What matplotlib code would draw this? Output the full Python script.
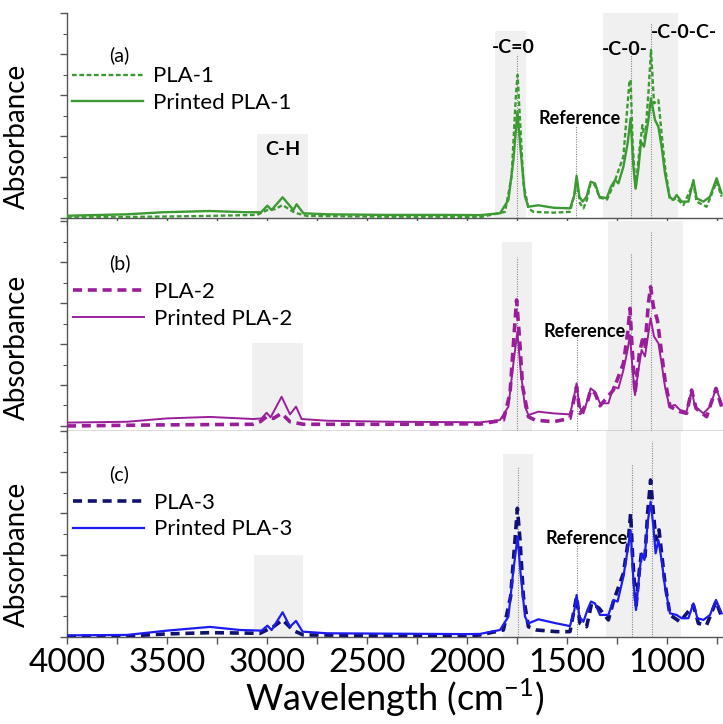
import numpy as np
import matplotlib
matplotlib.use("Agg")
import matplotlib.pyplot as plt
from matplotlib.ticker import MultipleLocator, FixedLocator

plt.rcParams['font.family'] = ['Lato', 'DejaVu Sans']

# ---------------- data (wavenumber cm-1, absorbance a.u.) ----------------
wn_pla1 = [4000, 3700, 3300, 3050, 2998, 2960, 2922, 2870, 2850, 2800, 2400, 2100, 1935, 1810, 1777, 1755,
           1747, 1735, 1718, 1693, 1668, 1568, 1485, 1460, 1452, 1435, 1418, 1400, 1382, 1360, 1338, 1300,
           1268, 1218, 1188, 1182, 1172, 1157, 1138, 1123, 1110, 1093, 1080, 1065, 1043, 1027, 1010, 985,
           952, 918, 868, 852, 802, 752, 727]
ab_pla1 = [0.003, 0.005, 0.010, 0.015, 0.039, 0.043, 0.063, 0.031, 0.023, 0.010, 0.006, 0.006, 0.004, 0.030,
           0.202, 0.608, 0.698, 0.478, 0.169, 0.047, 0.030, 0.026, 0.030, 0.128, 0.185, 0.072, 0.047, 0.090,
           0.169, 0.160, 0.100, 0.090, 0.161, 0.300, 0.665, 0.674, 0.364, 0.143, 0.332, 0.453, 0.380, 0.608,
           0.820, 0.559, 0.575, 0.413, 0.250, 0.088, 0.096, 0.063, 0.169, 0.080, 0.055, 0.177, 0.104]

wn_ppla1 = [4000, 3700, 3520, 3285, 3100, 3030, 2998, 2977, 2922, 2868, 2852, 2818, 2700, 2400, 2100, 1935,
            1835, 1793, 1768, 1748, 1732, 1710, 1693, 1643, 1568, 1485, 1465, 1452, 1438, 1422, 1402, 1382,
            1360, 1338, 1302, 1280, 1260, 1243, 1218, 1197, 1182, 1168, 1157, 1143, 1130, 1115, 1093, 1080,
            1060, 1043, 1027, 1010, 988, 968, 952, 927, 893, 868, 852, 818, 785, 752, 727]
ab_ppla1 = [0.011, 0.018, 0.028, 0.034, 0.028, 0.028, 0.060, 0.039, 0.101, 0.039, 0.067, 0.023, 0.018, 0.015,
            0.015, 0.014, 0.023, 0.088, 0.283, 0.519, 0.332, 0.104, 0.055, 0.062, 0.050, 0.047, 0.104, 0.206,
            0.104, 0.080, 0.104, 0.177, 0.169, 0.104, 0.096, 0.153, 0.185, 0.169, 0.250, 0.364, 0.486, 0.250,
            0.143, 0.240, 0.372, 0.348, 0.478, 0.584, 0.478, 0.445, 0.348, 0.218, 0.104, 0.088, 0.112, 0.080,
            0.080, 0.185, 0.096, 0.080, 0.104, 0.194, 0.120]

wn_pla2 = [4000, 3535, 3068, 3035, 3002, 2968, 2927, 2885, 2818, 2370, 2000, 1935, 1818, 1785, 1763, 1752,
           1738, 1722, 1693, 1660, 1568, 1485, 1452, 1435, 1400, 1382, 1360, 1335, 1268, 1218, 1197, 1185,
           1175, 1160, 1138, 1123, 1110, 1093, 1082, 1068, 1048, 1027, 1010, 985, 935, 902, 877, 855, 802,
           755, 727]
ab_pla2 = [0.024, 0.029, 0.032, 0.044, 0.068, 0.060, 0.084, 0.044, 0.032, 0.032, 0.034, 0.033, 0.052, 0.179,
           0.481, 0.624, 0.450, 0.211, 0.068, 0.052, 0.044, 0.060, 0.211, 0.084, 0.130, 0.195, 0.180, 0.120,
           0.195, 0.322, 0.465, 0.584, 0.402, 0.179, 0.370, 0.434, 0.402, 0.608, 0.687, 0.592, 0.528, 0.370,
           0.243, 0.116, 0.092, 0.084, 0.195, 0.108, 0.068, 0.203, 0.116]

wn_ppla2 = [4000, 3700, 3500, 3285, 3068, 3027, 3002, 2982, 2927, 2885, 2855, 2827, 2700, 2370, 2000, 1935,
            1835, 1793, 1768, 1748, 1732, 1710, 1693, 1643, 1568, 1485, 1465, 1452, 1438, 1418, 1398, 1382,
            1360, 1335, 1293, 1268, 1243, 1218, 1197, 1185, 1172, 1160, 1143, 1127, 1110, 1093, 1082, 1065,
            1043, 1027, 1010, 988, 960, 935, 902, 877, 860, 818, 785, 755, 727]
ab_ppla2 = [0.040, 0.044, 0.060, 0.067, 0.057, 0.060, 0.087, 0.065, 0.163, 0.079, 0.116, 0.057, 0.049, 0.044,
            0.042, 0.041, 0.052, 0.116, 0.322, 0.473, 0.290, 0.116, 0.076, 0.092, 0.084, 0.079, 0.163, 0.227,
            0.116, 0.084, 0.147, 0.203, 0.187, 0.132, 0.132, 0.211, 0.203, 0.290, 0.386, 0.457, 0.290, 0.171,
            0.290, 0.386, 0.355, 0.465, 0.537, 0.450, 0.418, 0.322, 0.211, 0.116, 0.124, 0.100, 0.092, 0.195,
            0.116, 0.084, 0.116, 0.203, 0.132]

wn_pla3 = [4000, 3700, 3500, 3285, 3035, 2968, 2922, 2868, 2818, 2000, 1935, 1818, 1782, 1760, 1748, 1735,
           1718, 1693, 1652, 1552, 1485, 1452, 1435, 1402, 1377, 1340, 1293, 1268, 1218, 1193, 1182, 1172,
           1155, 1138, 1127, 1110, 1097, 1082, 1068, 1055, 1040, 1027, 1010, 985, 935, 868, 843, 802, 755, 727]
ab_pla3 = [0.002, 0.005, 0.015, 0.021, 0.018, 0.050, 0.083, 0.031, 0.010, 0.006, 0.010, 0.034, 0.196, 0.471,
           0.625, 0.471, 0.196, 0.050, 0.034, 0.026, 0.026, 0.196, 0.066, 0.050, 0.163, 0.140, 0.083, 0.172,
           0.309, 0.471, 0.600, 0.390, 0.147, 0.325, 0.414, 0.390, 0.600, 0.762, 0.600, 0.471, 0.520, 0.406,
           0.260, 0.107, 0.074, 0.155, 0.066, 0.058, 0.172, 0.099]

wn_ppla3 = [4000, 3700, 3500, 3285, 3135, 3027, 2998, 2977, 2922, 2885, 2855, 2822, 2700, 2000, 1935, 1835,
            1793, 1768, 1747, 1732, 1710, 1693, 1643, 1552, 1485, 1463, 1452, 1438, 1418, 1398, 1380, 1360,
            1335, 1293, 1268, 1247, 1218, 1197, 1182, 1168, 1155, 1138, 1127, 1113, 1097, 1082, 1068, 1057,
            1043, 1027, 1010, 985, 952, 927, 893, 868, 848, 818, 785, 755, 727]
ab_ppla3 = [0.008, 0.010, 0.031, 0.049, 0.034, 0.031, 0.055, 0.034, 0.120, 0.050, 0.078, 0.026, 0.018, 0.014,
            0.015, 0.034, 0.099, 0.325, 0.487, 0.309, 0.099, 0.066, 0.086, 0.066, 0.053, 0.131, 0.204, 0.099,
            0.074, 0.131, 0.172, 0.163, 0.107, 0.107, 0.180, 0.172, 0.293, 0.422, 0.519, 0.277, 0.131, 0.309,
            0.406, 0.374, 0.552, 0.657, 0.536, 0.406, 0.471, 0.374, 0.244, 0.115, 0.107, 0.091, 0.091, 0.163,
            0.091, 0.083, 0.107, 0.180, 0.115]

panel_tags = ['(a)', '(b)', '(c)']
raw_labels = ['PLA-1', 'PLA-2', 'PLA-3']
printed_labels = ['Printed PLA-1', 'Printed PLA-2', 'Printed PLA-3']

# shaded regions per panel: (wn_high, wn_low, top)
bands = [
    [(3050, 2795, 0.41), (1860, 1705, 0.91), (1320, 945, 1.0)],
    [(3075, 2820, 0.42), (1825, 1675, 0.90), (1295, 920, 1.0)],
    [(3065, 2820, 0.40), (1820, 1670, 0.89), (1305, 930, 1.0)],
]
# dotted marker lines per panel: (wn, top)
markers = [
    [(1750, 0.80), (1455, 0.45), (1180, 0.795), (1080, 0.95)],
    [(1750, 0.83), (1450, 0.45), (1180, 0.85), (1080, 0.95)],
    [(1745, 0.83), (1450, 0.46), (1175, 0.84), (1075, 0.95)],
]
ref_label_pos = [(1435, 0.483), (1410, 0.476), (1400, 0.48)]
group_labels = [('C-H', 2920, 0.332), ('-C=0', 1770, 0.834), ('-C-0-', 1210, 0.82), ('-C-0-C-', 915, 0.907)]

xticks_major = [4000, 3500, 3000, 2500, 2000, 1500, 1000]

# ---------------- styling ----------------
colors_raw = ['#3c9a32', '#9a1e9a', '#111170']
colors_printed = ['#3c9a32', '#9a1e9a', '#1c1cf0']
raw_styles = [dict(ls=(0, (2.0, 1.1)), lw=1.7), dict(ls=(0, (2.5, 1.6)), lw=2.6), dict(ls=(0, (2.5, 1.6)), lw=2.6)]
printed_lw = [1.7, 1.4, 1.6]

fig = plt.figure(figsize=(7.23, 7.24), dpi=100)
left = 67 / 723
width = 1 - left
ax_rects = [
    [left, 1 - 218 / 724, width, 205 / 724],
    [left, 1 - 431 / 724, width, 210 / 724],
    [left, 1 - 637 / 724, width, 206 / 724],
]
legend_anchor = [(0.0076, 0.74), (0.009, 0.71), (0.009, 0.70)]
tag_pos = [(0.08, 0.795), (0.08, 0.80), (0.08, 0.79)]
ytick_sets = [np.arange(0, 1.01, 0.2), np.arange(0.024, 1.01, 0.195), np.arange(0, 1.01, 0.2)]

series = [(wn_pla1, ab_pla1, wn_ppla1, ab_ppla1),
          (wn_pla2, ab_pla2, wn_ppla2, ab_ppla2),
          (wn_pla3, ab_pla3, wn_ppla3, ab_ppla3)]

spine_col = '#555555'
axes = []
for i in range(3):
    ax = fig.add_axes(ax_rects[i])
    axes.append(ax)
    ax.set_xlim(4000, 720)
    ax.set_ylim(0, 1.0)
    for (x0, x1, top) in bands[i]:
        ax.axvspan(x1, x0, ymin=0, ymax=top, color='#f0f0f0', lw=0, zorder=0)
    for (xm, top) in markers[i]:
        ax.vlines(xm, 0, top, colors='#888888', linestyles=(0, (1, 1.2)), lw=0.8, zorder=1)
    wr, ar, wp, ap = series[i]
    ax.plot(wr, ar, color=colors_raw[i], label=raw_labels[i], zorder=3, **raw_styles[i])
    ax.plot(wp, ap, color=colors_printed[i], lw=printed_lw[i], label=printed_labels[i], zorder=4)
    leg = ax.legend(loc='upper left', bbox_to_anchor=legend_anchor[i], frameon=False, fontsize=16,
                    handlelength=3.2, handletextpad=0.45, borderpad=0, borderaxespad=0, labelspacing=0.3)
    ax.text(*tag_pos[i], panel_tags[i], transform=ax.transAxes, fontsize=14, ha='center', va='center')
    rx, ry = ref_label_pos[i]
    ax.text(rx, ry, 'Reference', fontsize=13, fontweight='bold', ha='center', va='center', zorder=5)
    ax.set_ylabel('Absorbance', fontsize=20)
    ax.yaxis.set_label_coords(-0.056, 0.40)
    for s in ['top', 'right']:
        ax.spines[s].set_visible(False)
    for s in ['left', 'bottom']:
        ax.spines[s].set_color(spine_col)
        ax.spines[s].set_linewidth(1.0)
    ax.xaxis.set_major_locator(FixedLocator(xticks_major))
    ax.xaxis.set_minor_locator(MultipleLocator(250))
    ax.yaxis.set_major_locator(FixedLocator(ytick_sets[i]))
    ax.yaxis.set_minor_locator(FixedLocator(ytick_sets[i][:-1] + (ytick_sets[i][1] - ytick_sets[i][0]) / 2))
    ax.set_yticklabels([])
    ax.tick_params(axis='x', which='both', direction='out', length=5, width=1, color=spine_col,
                   labelsize=24, pad=3)
    ax.tick_params(axis='y', which='major', direction='out', length=5, width=1, color=spine_col)
    ax.tick_params(axis='y', which='minor', direction='out', length=3, width=0.8, color=spine_col)
    if i < 2:
        ax.set_xticklabels([])

for (txt, gx, gy) in group_labels:
    axes[0].text(gx, gy, txt, fontsize=14, fontweight='bold', ha='center', va='center', zorder=5)

axes[2].set_xlabel('Wavelength (cm$^{\\mathregular{-1}}$)', fontsize=26, labelpad=-1)

fig.savefig('out.png', dpi=100)
